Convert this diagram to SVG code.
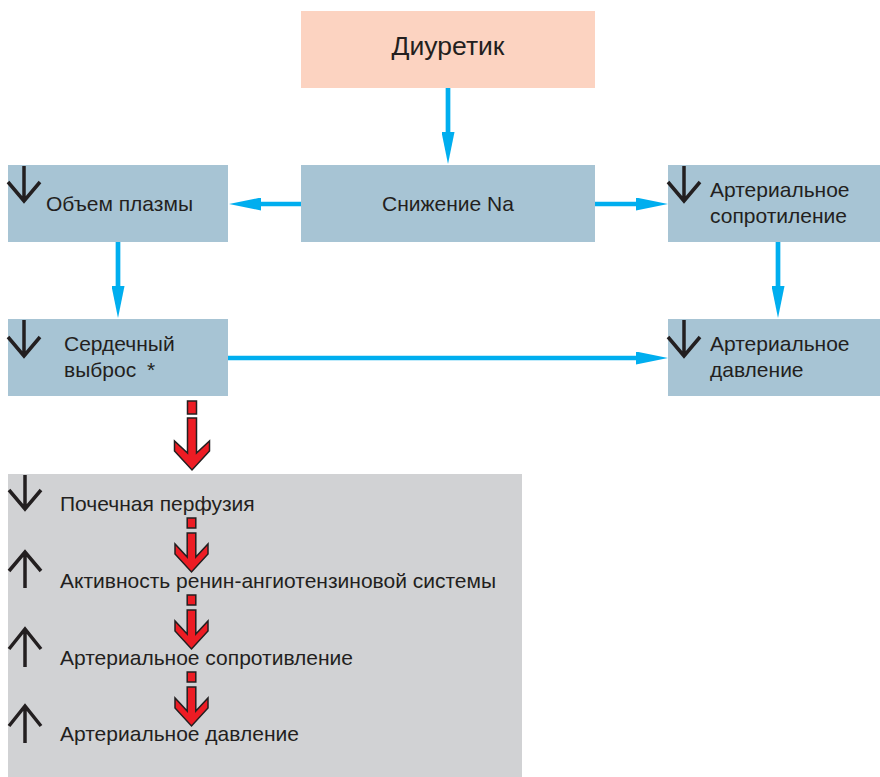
<svg xmlns="http://www.w3.org/2000/svg" width="880" height="777" viewBox="0 0 880 777">
<style>
.box{fill:#a7c4d4}
.pink{fill:#fcd3c1}
.gray{fill:#d1d2d4}
.t{font-family:"Liberation Sans",Arial,sans-serif;font-size:21px;fill:#231f20}
.conn{stroke:#00aeef;stroke-width:4.7;fill:none}
.blk{stroke:#231f20;stroke-width:3.5;fill:none;stroke-linejoin:miter}
.red{fill:#ed1c24;stroke:#231f20;stroke-width:1.5}
</style>
<defs>
<marker id="ah" viewBox="0 0 32 13" markerWidth="32" markerHeight="13" markerUnits="userSpaceOnUse" refX="1" refY="6.5" orient="auto">
<path d="M0,0 L32,6.5 L0,13 Z" fill="#00aeef"/>
</marker>
<g id="redSmall">
<rect class="red" x="-4.3" y="0" width="8.6" height="10"/>
<polygon class="red" points="-4.3,15 4.3,15 4.3,39 16.5,26 16.5,36 0,54 -16.5,36 -16.5,26 -4.3,39"/>
</g>
</defs>

<g id="diuretik">
<rect class="pink" x="301" y="11" width="294" height="77"/>
<text class="t" x="448" y="55" text-anchor="middle" style="font-size:26.5px">Диуретик</text>
</g>

<g id="snizhenie">
<rect class="box" x="301" y="165" width="294" height="77"/>
<text class="t" x="448" y="211" text-anchor="middle">Снижение Na</text>
</g>

<g id="obem">
<rect class="box" x="8" y="165" width="220" height="77"/>
<path class="blk" d="M24,166 V201 M8,182 L24,201 L40,182"/>
<text class="t" x="46" y="211">Объем плазмы</text>
</g>

<g id="soprotivlenie">
<rect class="box" x="668" y="165" width="212" height="77"/>
<path class="blk" d="M684,166 V201 M668,182 L684,201 L700,182"/>
<text class="t" x="710" y="197">Артериальное</text>
<text class="t" x="710" y="223">сопротиление</text>
</g>

<g id="vybros">
<rect class="box" x="8" y="319" width="220" height="77"/>
<path class="blk" d="M24,320 V356 M8,337 L24,356 L40,337"/>
<text class="t" x="64" y="351">Сердечный</text>
<text class="t" x="64" y="377">выброс<tspan x="147">*</tspan></text>
</g>

<g id="davlenie">
<rect class="box" x="668" y="319" width="212" height="77"/>
<path class="blk" d="M684,320 V356 M668,337 L684,356 L700,337"/>
<text class="t" x="710" y="351">Артериальное</text>
<text class="t" x="710" y="377">давление</text>
</g>

<g id="cascade">
<rect class="gray" x="8" y="474" width="514" height="303"/>
<path class="blk" d="M25,475 V509 M9,490 L25,509 L41,490"/>
<path class="blk" d="M25,588 V552 M9,571 L25,552 L41,571"/>
<path class="blk" d="M25,667 V629 M9,649 L25,629 L41,649"/>
<path class="blk" d="M25,743 V706 M9,726 L25,706 L41,726"/>
<text class="t" x="60" y="511">Почечная перфузия</text>
<text class="t" x="60" y="588">Активность ренин-ангиотензиновой системы</text>
<text class="t" x="60" y="665">Артериальное сопротивление</text>
<text class="t" x="60" y="741">Артериальное давление</text>
<use href="#redSmall" transform="translate(191.5,518)"/>
<use href="#redSmall" transform="translate(191.5,595)"/>
<use href="#redSmall" transform="translate(191.5,672)"/>
</g>

<g id="connectors">
<line class="conn" x1="448" y1="88" x2="448" y2="133" marker-end="url(#ah)"/>
<line class="conn" x1="301" y1="204" x2="260" y2="204" marker-end="url(#ah)"/>
<line class="conn" x1="595" y1="204" x2="637" y2="204" marker-end="url(#ah)"/>
<line class="conn" x1="118" y1="242" x2="118" y2="287" marker-end="url(#ah)"/>
<line class="conn" x1="778" y1="242" x2="778" y2="287" marker-end="url(#ah)"/>
<line class="conn" x1="228" y1="358" x2="637" y2="358" marker-end="url(#ah)"/>
<g id="redBig">
<rect class="red" x="187.5" y="401" width="9" height="13"/>
<polygon class="red" points="187.5,418 196.5,418 196.5,453 209.5,441 209.5,451 192,470 174.5,451 174.5,441 187.5,453"/>
</g>
</g>
</svg>
